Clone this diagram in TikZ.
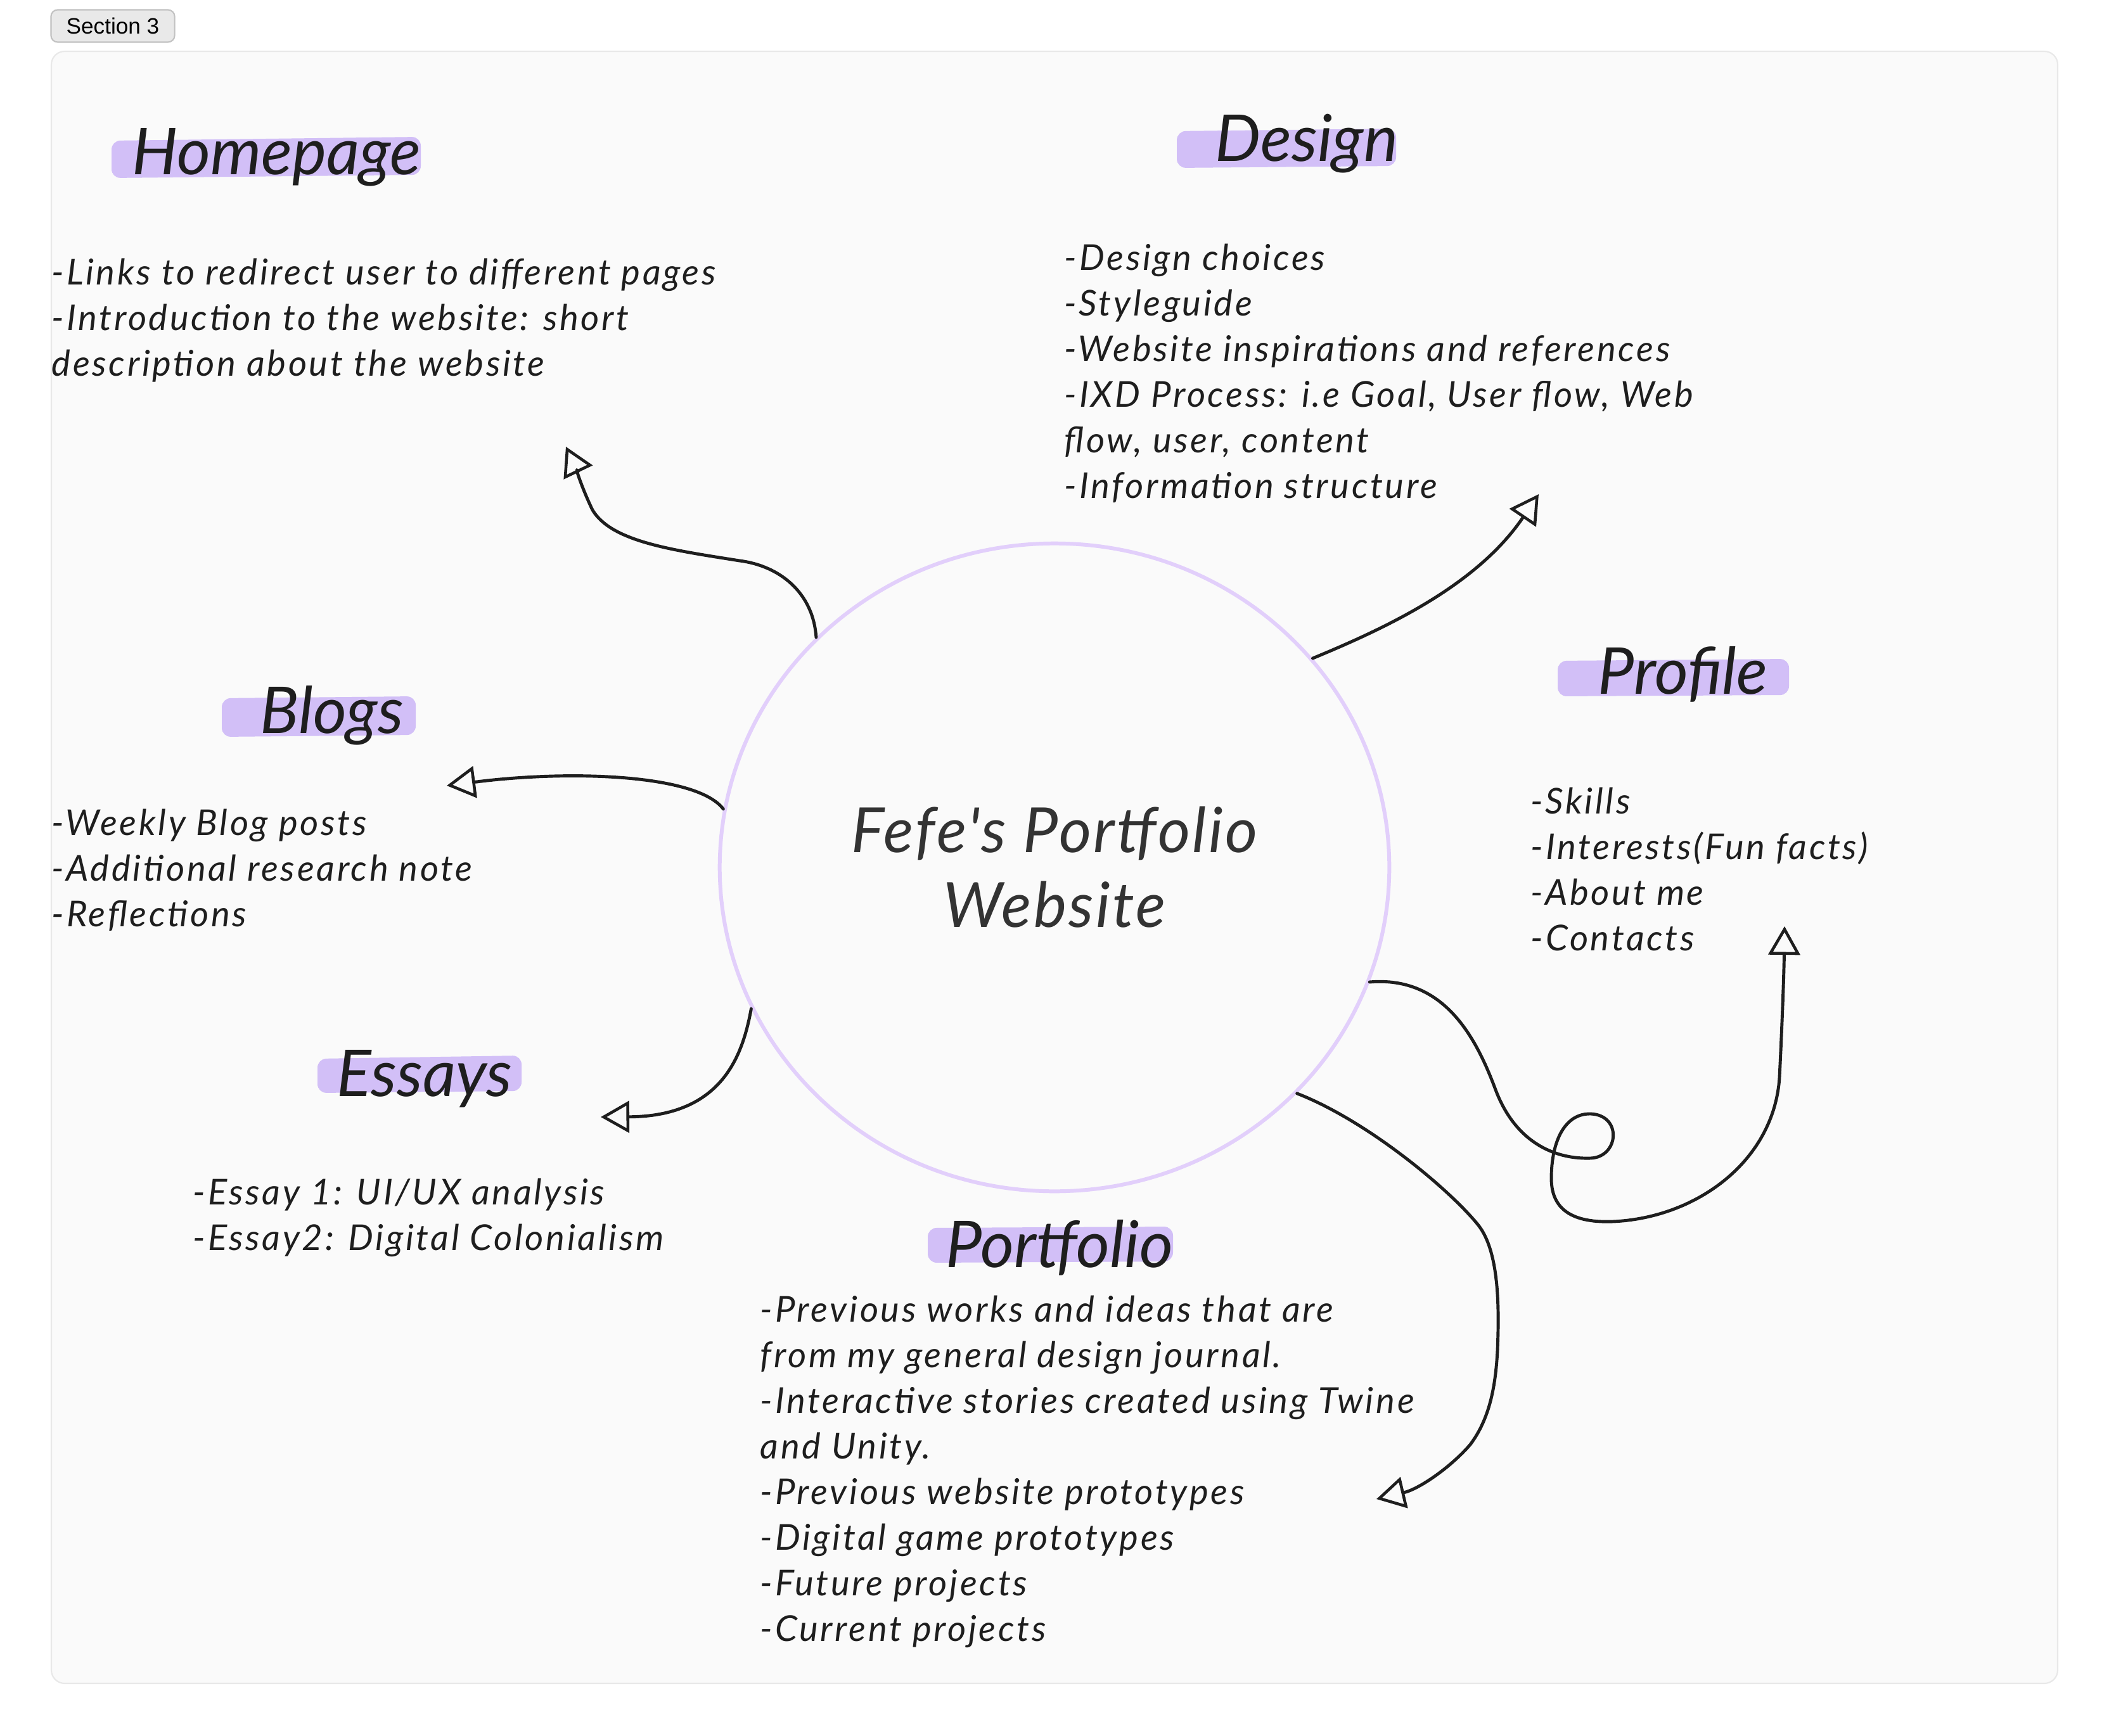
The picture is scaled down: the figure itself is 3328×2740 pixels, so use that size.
\documentclass[tikz,border=0pt]{standalone}
\usepackage{fontspec}
\usetikzlibrary{arrows.meta, shapes.geometric}
\newfontfamily\handfont{Lato}
\newfontfamily\uifont{Liberation Sans}
\definecolor{ink}{HTML}{1E1E1E}
\definecolor{hubink}{HTML}{333333}
\definecolor{lilac}{HTML}{E2CFFB}
\definecolor{hlcolor}{HTML}{D2BFF7}
\definecolor{paper}{HTML}{FAFAFA}
\definecolor{frameline}{HTML}{E8E8E8}
\definecolor{tabfill}{HTML}{E9E9E9}
\definecolor{tabline}{HTML}{C2C2C2}
\tikzset{
  headtext/.style={anchor=base west, inner sep=0pt, text=ink,
    font=\handfont\itshape\fontsize{29}{34}\selectfont},
  bodytext/.style={anchor=north west, inner sep=0pt, align=left, text=ink,
    font=\handfont\itshape\addfontfeatures{LetterSpace=6.5}\fontsize{16}{20.5}\selectfont},
  brush/.style={fill=hlcolor, rounded corners=4pt},
  link/.style={line width=1.4pt, draw=ink,
    -{Triangle[open, length=4.5mm, width=5mm, line width=1.3pt]}},
}
\begin{document}
\begin{tikzpicture}[x=0.01cm, y=-0.01cm, line join=round, line cap=round]
  \useasboundingbox (0,0) rectangle (3328,2740);
  \fill[white] (0,0) rectangle (3328,2740);

  % Tab and frame
  \node[draw=tabline, fill=tabfill, rounded corners=3pt, line width=0.6pt,
    minimum width=1.95cm, minimum height=0.51cm,
    font=\uifont\fontsize{10}{12}\selectfont] (tab) at (178,41) {Section 3};
  \draw[frameline, fill=paper, line width=0.6pt, rounded corners=6pt]
    (81,81) rectangle (3247,2657);

  % Centre circle
  \node[ellipse, draw=lilac, line width=1.7pt, minimum width=10.56cm,
    minimum height=10.22cm, inner sep=0pt, align=center, text=hubink,
    font=\handfont\itshape\addfontfeatures{LetterSpace=3.5}\fontsize{28}{33.5}\selectfont]
    (hub) at (1664,1369) {Fefe's Portfolio\\Website};

  % Marker strokes behind the headings
  \fill[brush] (176,222) -- (664,216) -- (664,276) -- (176,281) -- cycle;
  \fill[brush] (1857,207) -- (2203,203) -- (2203,262) -- (1857,265) -- cycle;
  \fill[brush] (2458,1043) -- (2823,1040) -- (2823,1097) -- (2458,1099) -- cycle;
  \fill[brush] (350,1102) -- (656,1099) -- (656,1160) -- (350,1163) -- cycle;
  \fill[brush] (501,1671) -- (823,1666) -- (823,1722) -- (501,1725) -- cycle;
  \fill[brush] (1464,1938) -- (1851,1936) -- (1851,1991) -- (1464,1993) -- cycle;

  % Headings
  \node[headtext] (homepage) at (208,276) {Homepage};
  \node[headtext] (design) at (1917,255) {Design};
  \node[headtext] (profile) at (2521,1095) {Profile};
  \node[headtext] (blogs) at (410,1157) {Blogs};
  \node[headtext] (essays) at (531,1730) {Essays};
  \node[headtext] (portfolio) at (1492,2000) {Portfolio};

  % Notes
  \node[bodytext] (homepageNote) at (81,407) {-Links to redirect user to different pages\\
    -Introduction to the website: short\\description about the website};
  \node[bodytext] (designNote) at (1679,384) {-Design choices\\-Styleguide\\
    -Website inspirations and references\\-IXD Process: i.e Goal, User flow, Web\\
    flow, user, content\\-Information structure};
  \node[bodytext] (profileNote) at (2415,1242) {-Skills\\-Interests(Fun facts)\\
    -About me\\-Contacts};
  \node[bodytext] (blogsNote) at (81,1276) {-Weekly Blog posts\\
    -Additional research note\\-Reflections};
  \node[bodytext] (essaysNote) at (304,1859) {-Essay 1: UI/UX analysis\\
    -Essay2: Digital Colonialism};
  \node[bodytext] (portfolioNote) at (1199,2044) {-Previous works and ideas that are\\
    from my general design journal.\\-Interactive stories created using Twine\\
    and Unity.\\-Previous website prototypes\\-Digital game prototypes\\
    -Future projects\\-Current projects};

  % Arrow ends
  \coordinate (hpTip) at (893,705);
  \coordinate (dsTip) at (2428,780);
  \coordinate (bgTip) at (705,1240);
  \coordinate (esTip) at (948,1763);
  \coordinate (pfTip) at (2816,1462);
  \coordinate (poTip) at (2172,2366);

  % Hand-drawn arrows
  \draw[link] (hub.136) .. controls (1283,935) and (1230,893) .. (1167,885)
    .. controls (1060,868) and (965,855) .. (935,805)
    .. controls (918,770) and (905,730) .. (hpTip);
  \draw[link] (hub.39) .. controls (2185,992) and (2330,925) .. (dsTip);
  \draw[link] (hub.170) .. controls (1100,1222) and (900,1215) .. (bgTip);
  \draw[link] (hub.205) .. controls (1172,1665) and (1140,1762) .. (esTip);
  \draw[link] (hub.340) .. controls (2280,1540) and (2330,1640) .. (2360,1720)
    .. controls (2390,1800) and (2450,1830) .. (2510,1828)
    .. controls (2555,1826) and (2560,1760) .. (2510,1758)
    .. controls (2470,1757) and (2448,1800) .. (2448,1860)
    .. controls (2448,1915) and (2490,1930) .. (2545,1928)
    .. controls (2680,1922) and (2800,1830) .. (2808,1700)
    .. controls (2812,1620) and (2815,1540) .. (pfTip);
  \draw[link] (hub.-43) .. controls (2160,1770) and (2290,1880) .. (2333,1934)
    .. controls (2365,1975) and (2366,2060) .. (2363,2131)
    .. controls (2360,2190) and (2350,2240) .. (2320,2280)
    .. controls (2290,2315) and (2240,2350) .. (poTip);
\end{tikzpicture}
\end{document}
